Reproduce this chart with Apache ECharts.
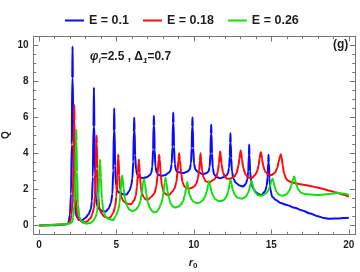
<!DOCTYPE html>
<html><head><meta charset="utf-8">
<script src="https://cdn.jsdelivr.net/npm/echarts@6/dist/echarts.min.js"></script>
<style>html,body{margin:0;padding:0;background:#fff}#c{width:360px;height:272px}</style>
</head><body><div id="c"></div>
<script>
const seriesNames = ['E = 0.1', 'E = 0.18', 'E = 0.26'];

const blueE010 = [
[0,0],[0.5,0.01],[1,0.02],[1.5,0.04],[1.8,0.07],[1.9,0.12],[2.0,0.6],[2.07,1.75],[2.12,4.5],[2.15,8.2],[2.17,9.95],[2.19,8.2],[2.22,4.5],[2.27,1.75],[2.35,0.8],[2.45,0.46],[2.6,0.3],[2.8,0.3],[3.0,0.42],[3.2,0.62],
[3.35,0.9],[3.42,1.35],[3.48,2.7],[3.52,5.5],[3.55,7.67],[3.58,5.5],[3.62,2.8],[3.68,1.5],[3.77,1.08],[3.9,0.9],[4.1,0.8],[4.32,0.78],
[4.5,0.95],[4.65,1.25],[4.74,1.75],[4.8,3.05],[4.835,5.25],[4.86,6.52],[4.885,5.3],[4.92,3.3],[4.98,2.2],[5.07,1.9],[5.25,1.78],[5.5,1.72],[5.66,1.72],
[5.85,1.95],[5.95,2.2],[6.03,2.6],[6.09,3.55],[6.125,5.2],[6.15,6.0],[6.175,5.3],[6.21,3.9],[6.27,3.1],[6.35,2.8],[6.5,2.66],[6.75,2.64],[7.0,2.7],
[7.15,2.79],[7.25,2.92],[7.32,3.27],[7.37,4.22],[7.4,5.54],[7.42,6.1],[7.44,5.54],[7.47,4.22],[7.52,3.27],[7.6,2.95],[7.7,2.82],[7.92,2.76],[8.15,2.8],
[8.4,2.95],[8.5,3.07],[8.57,3.42],[8.62,4.38],[8.65,5.7],[8.67,6.28],[8.69,5.7],[8.72,4.38],[8.77,3.42],[8.85,3.07],[8.95,2.97],[9.3,2.91],
[9.6,3.0],[9.74,3.12],[9.81,3.45],[9.86,4.3],[9.89,5.5],[9.91,6.0],[9.93,5.5],[9.96,4.3],[10.01,3.45],[10.09,3.12],[10.25,2.98],[10.55,2.85],
[10.8,2.9],[10.95,3.0],[11.02,3.25],[11.07,4.0],[11.1,5.1],[11.12,5.6],[11.14,5.1],[11.17,4.0],[11.22,3.2],[11.3,2.85],[11.45,2.7],[11.7,2.62],[11.95,2.7],
[12.1,2.78],[12.2,2.9],[12.27,3.2],[12.32,3.85],[12.34,4.6],[12.36,5.13],[12.38,4.6],[12.41,3.75],[12.46,3.0],[12.55,2.6],[12.7,2.38],[12.95,2.22],[13.18,2.17],
[13.35,2.3],[13.45,2.55],[13.51,3.0],[13.55,3.9],[13.57,4.5],[13.59,3.9],[13.63,3.0],[13.7,2.45],[13.8,2.1],[14.0,1.85],[14.2,1.73],[14.37,1.7],
[14.6,1.9],[14.7,2.2],[14.76,2.7],[14.8,3.5],[14.82,3.93],[14.84,3.5],[14.88,2.6],[14.94,2.0],[15.05,1.6],[15.3,1.42],[15.6,1.25],[16.0,1.14],
[16.5,0.98],[17.0,0.83],[17.5,0.67],[18.0,0.52],[18.4,0.41],[18.8,0.38],[19.3,0.39],[19.7,0.41],[20.0,0.43]
];

const redE018 = [
[0,0],[0.5,0.02],[1,0.04],[1.5,0.06],[1.8,0.08],[2.0,0.15],[2.1,0.6],[2.18,1.5],[2.23,3.45],[2.26,5.8],[2.28,6.7],[2.3,5.8],[2.33,3.45],[2.38,1.5],[2.46,0.6],[2.6,0.31],[2.85,0.17],[3.1,0.22],[3.35,0.42],
[3.45,0.65],[3.55,0.95],[3.62,1.65],[3.67,3.15],[3.7,4.55],[3.72,4.98],[3.74,4.55],[3.77,3.15],[3.82,1.7],[3.9,1.0],[4.0,0.72],[4.2,0.5],[4.45,0.42],[4.6,0.45],
[4.8,0.7],[4.92,1.05],[5.0,1.6],[5.06,2.65],[5.1,3.75],[5.12,3.93],[5.14,3.75],[5.18,2.8],[5.24,2.0],[5.32,1.6],[5.45,1.35],[5.65,1.22],[5.95,1.18],
[6.15,1.4],[6.25,1.65],[6.33,2.15],[6.39,2.93],[6.43,3.5],[6.45,3.65],[6.47,3.5],[6.51,2.95],[6.57,2.2],[6.65,1.8],[6.75,1.58],[6.9,1.45],[7.05,1.45],
[7.25,1.6],[7.45,1.78],[7.58,2.17],[7.66,2.8],[7.72,3.67],[7.76,3.93],[7.8,3.67],[7.86,2.8],[7.94,2.2],[8.07,1.85],[8.2,1.73],[8.38,1.68],
[8.6,1.87],[8.75,2.06],[8.87,2.4],[8.95,3.0],[9.0,3.63],[9.05,4.02],[9.1,3.63],[9.17,2.95],[9.27,2.4],[9.4,2.15],[9.6,2.05],[9.78,2.07],
[10.0,2.15],[10.15,2.3],[10.26,2.6],[10.34,3.05],[10.39,3.6],[10.43,4.02],[10.47,3.6],[10.53,3.05],[10.63,2.65],[10.78,2.45],[11.0,2.4],
[11.3,2.55],[11.45,2.7],[11.55,3.0],[11.62,3.45],[11.67,3.95],[11.7,4.11],[11.73,3.95],[11.79,3.4],[11.88,2.95],[12.0,2.7],[12.15,2.6],[12.32,2.6],
[12.6,2.7],[12.75,2.9],[12.87,3.3],[12.95,3.75],[12.99,4.05],[13.02,4.16],[13.05,4.05],[13.1,3.7],[13.19,3.2],[13.32,2.85],[13.5,2.68],[13.72,2.62],
[13.95,2.8],[14.08,3.0],[14.18,3.35],[14.25,3.75],[14.29,4.0],[14.32,4.07],[14.35,4.0],[14.4,3.7],[14.48,3.3],[14.6,3.0],[14.78,2.85],[15.01,2.8],
[15.25,2.95],[15.38,3.2],[15.48,3.55],[15.56,3.85],[15.61,3.96],[15.66,3.8],[15.73,3.35],[15.82,2.9],[15.95,2.6],[16.1,2.48],[16.3,2.4],[16.7,2.32],
[17.05,2.27],[17.5,2.2],[17.9,2.12],[18.3,2.04],[18.77,1.93],[19.2,1.83],[19.6,1.72],[20.0,1.6]
];

const greenE026 = [
[0,0],[0.5,0.02],[1,0.04],[1.5,0.06],[1.8,0.08],[2.0,0.12],[2.15,0.2],[2.2,0.45],[2.3,1.16],[2.36,2.97],[2.39,4.7],[2.41,5.32],[2.43,4.7],[2.46,2.97],[2.52,1.16],[2.62,0.45],[2.8,0.18],[3.07,0.1],[3.3,0.14],[3.5,0.25],
[3.65,0.46],[3.75,0.73],[3.83,1.42],[3.89,2.7],[3.92,3.45],[3.94,3.65],[3.96,3.45],[4.0,2.65],[4.06,1.5],[4.16,0.8],[4.3,0.5],[4.5,0.36],[4.8,0.3],
[4.95,0.52],[5.1,0.8],[5.2,1.22],[5.28,1.97],[5.33,2.57],[5.37,2.78],[5.41,2.55],[5.47,2.05],[5.56,1.45],[5.68,1.1],[5.85,0.88],[6.05,0.8],
[6.25,0.88],[6.42,1.05],[6.55,1.33],[6.65,1.84],[6.72,2.38],[6.78,2.58],[6.84,2.35],[6.92,1.8],[7.02,1.3],[7.15,1.0],[7.3,0.8],[7.44,0.73],[7.6,0.76],
[7.75,0.95],[7.88,1.2],[7.98,1.5],[8.06,1.95],[8.12,2.4],[8.17,2.66],[8.22,2.4],[8.3,1.9],[8.4,1.5],[8.52,1.2],[8.65,1.05],[8.8,1.0],
[9.0,1.05],[9.15,1.15],[9.3,1.35],[9.42,1.68],[9.5,2.05],[9.57,2.41],[9.64,2.05],[9.73,1.7],[9.85,1.45],[10.0,1.3],[10.2,1.24],
[10.4,1.28],[10.58,1.4],[10.72,1.6],[10.84,1.9],[10.92,2.25],[10.98,2.47],[11.04,2.25],[11.13,1.9],[11.25,1.62],[11.4,1.45],[11.6,1.36],[11.75,1.36],
[11.95,1.42],[12.1,1.6],[12.22,1.9],[12.31,2.3],[12.37,2.56],[12.43,2.3],[12.52,1.95],[12.65,1.7],[12.8,1.56],[13.0,1.5],[13.15,1.5],
[13.35,1.6],[13.5,1.8],[13.6,2.1],[13.67,2.35],[13.72,2.47],[13.77,2.35],[13.85,2.05],[13.97,1.82],[14.15,1.68],[14.37,1.65],
[14.6,1.75],[14.78,1.9],[14.9,2.15],[15.0,2.45],[15.08,2.6],[15.14,2.42],[15.23,2.1],[15.35,1.85],[15.52,1.7],[15.75,1.65],
[16.0,1.75],[16.17,1.95],[16.3,2.25],[16.4,2.55],[16.47,2.72],[16.53,2.55],[16.62,2.25],[16.75,1.98],[16.92,1.82],[17.15,1.75],[17.5,1.72],
[18.0,1.7],[18.5,1.73],[19.0,1.78],[19.3,1.8],[19.6,1.78],[20.0,1.7]
];

const xMajorTicks = [0, 5, 10, 15, 20];
const xMinorTicks = [1, 2, 3, 4, 6, 7, 8, 9, 11, 12, 13, 14, 16, 17, 18, 19];
const yMajorTicks = [0, 2, 4, 6, 8, 10];
const yMinorTicks = [0.5, 1, 1.5, 2.5, 3, 3.5, 4.5, 5, 5.5, 6.5, 7, 7.5, 8.5, 9, 9.5];
const colors = ['#0a0aff', '#ff0a0a', '#0ee00e'];

const FRAME = '#777777';
const TXT = '#1e1e1e';
const FONT = '"Liberation Sans", Arial, sans-serif';
const X_MIN = -0.35, X_MAX = 20.4, Y_MIN = -0.5, Y_MAX = 10.5;

function axis(kind, pos, ticks, len, showLabel) {
  const a = {
    type: 'value', position: pos, min: kind === 'x' ? X_MIN : Y_MIN, max: kind === 'x' ? X_MAX : Y_MAX,
    axisLine: { show: true, onZero: false, lineStyle: { color: FRAME, width: 1 } },
    axisTick: { show: true, inside: true, length: len, customValues: ticks, lineStyle: { color: FRAME, width: 1 } },
    axisLabel: { show: showLabel, customValues: ticks, color: TXT, fontFamily: FONT, fontWeight: 'bold', fontSize: 10, margin: kind === 'x' ? 6 : 5 },
    splitLine: { show: false }, minorTick: { show: false }
  };
  return a;
}

const chart = echarts.init(document.getElementById('c'), null, { renderer: 'canvas' });
chart.setOption({
  animation: false,
  backgroundColor: '#ffffff',
  grid: { left: 33.5, right: 5, top: 36.5, bottom: 37.5, containLabel: false },
  legend: {
    data: seriesNames, left: 60, top: 9, icon: 'rect', itemWidth: 19, itemHeight: 2, itemGap: 14,
    textStyle: { color: TXT, fontFamily: FONT, fontWeight: 'bold', fontSize: 12.5, lineHeight: 13 }
  },
  xAxis: [
    axis('x', 'bottom', xMajorTicks, 5, true),
    axis('x', 'bottom', xMinorTicks, 2.7, false),
    axis('x', 'top', xMajorTicks, 5, false),
    axis('x', 'top', xMinorTicks, 2.7, false)
  ],
  yAxis: [
    axis('y', 'left', yMajorTicks, 5, true),
    axis('y', 'left', yMinorTicks, 2.7, false),
    axis('y', 'right', yMajorTicks, 5, false),
    axis('y', 'right', yMinorTicks, 2.7, false)
  ],
  series: [blueE010, redE018, greenE026].map((d, i) => ({
    name: seriesNames[i], type: 'line', data: d, xAxisIndex: 0, yAxisIndex: 0,
    showSymbol: false, symbol: 'none', smooth: 0.25, smoothMonotone: 'x',
    lineStyle: { color: colors[i], width: 2 }, itemStyle: { color: colors[i] }, z: 2 + i
  })),
  graphic: [
    { type: 'text', left: 90, top: 51, z: 10, style: {
        text: '{v|φ}{s|i}{n|=2.5 , Δ}{s|1}{n|=0.7}',
        rich: {
          v: { fontFamily: FONT, fontWeight: 'bold', fontStyle: 'italic', fontSize: 12, lineHeight: 15, verticalAlign: 'middle', fill: TXT },
          n: { fontFamily: FONT, fontWeight: 'bold', fontSize: 12, lineHeight: 15, verticalAlign: 'middle', fill: TXT },
          s: { fontFamily: FONT, fontWeight: 'bold', fontStyle: 'italic', fontSize: 8, lineHeight: 8, verticalAlign: 'bottom', fill: TXT }
        }
    } },
    { type: 'text', left: 333, top: 39, z: 10, style: { text: '(g)', fontFamily: FONT, fontWeight: 'bold', fontSize: 12, fill: TXT } },
    { type: 'text', x: 6.5, y: 135, rotation: Math.PI / 2, z: 10, style: { text: 'Q', fontFamily: FONT, fontWeight: 'bold', fontSize: 10, fill: TXT, align: 'center', verticalAlign: 'middle' } },
    { type: 'text', x: 193, y: 263, z: 10, style: {
        text: '{r|r}{s|0}', align: 'center', verticalAlign: 'middle',
        rich: {
          r: { fontFamily: FONT, fontWeight: 'bold', fontStyle: 'italic', fontSize: 11, lineHeight: 13, verticalAlign: 'middle', fill: TXT },
          s: { fontFamily: FONT, fontWeight: 'bold', fontSize: 8, lineHeight: 8, verticalAlign: 'bottom', fill: TXT }
        }
    } }
  ]
});
</script></body></html>
